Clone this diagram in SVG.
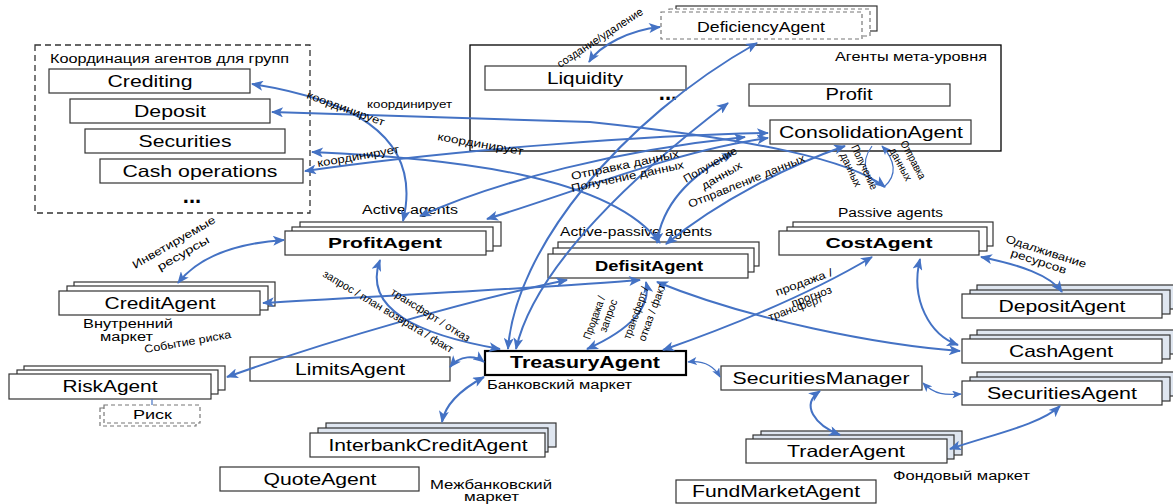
<svg xmlns="http://www.w3.org/2000/svg" width="1173" height="504" viewBox="0 0 1173 504">
<style>
text{font-family:"Liberation Sans",Arial,sans-serif;fill:#000}
.box{fill:#fff;stroke:#333;stroke-width:1.2}
.bk{fill:#fff;stroke:#333;stroke-width:1.2}
.bkb{fill:#dfe6f0;stroke:#333;stroke-width:1.2}
.dash{fill:#fff;stroke:#777;stroke-width:1.2;stroke-dasharray:4 3}
.n{font-size:16.5px;text-anchor:middle}
.b{font-size:15.5px;font-weight:bold;text-anchor:middle}
.s{font-size:12px}
.l{font-size:11px}
.c{fill:none;stroke:#4472C4;stroke-width:2}
.t{fill:none;stroke:#4472C4;stroke-width:1.2}
</style>
<defs>
<marker id="ah" viewBox="0 0 12 10" refX="11" refY="5" markerWidth="14" markerHeight="10" markerUnits="userSpaceOnUse" orient="auto-start-reverse"><path d="M0,0 L12,5 L0,10 L3,5 z" fill="#4472C4"/></marker>
<marker id="as" viewBox="0 0 12 10" refX="11" refY="5" markerWidth="10" markerHeight="8" markerUnits="userSpaceOnUse" orient="auto-start-reverse"><path d="M0,0 L12,5 L0,10 L3,5 z" fill="#4472C4"/></marker>
</defs>

<g id="group-coordination">
<rect x="35" y="45" width="275" height="168" fill="none" stroke="#333" stroke-width="1.3" stroke-dasharray="6 4"/>
<text class="s" x="50" y="63" textLength="239" lengthAdjust="spacingAndGlyphs">Координация агентов для групп</text>
<text x="192" y="203" style="font-size:22px;font-weight:bold;text-anchor:middle">...</text>
</g>
<g id="crediting"><rect class="box" x="49" y="69" width="201" height="24"/><text class="n" x="150" y="87" textLength="85" lengthAdjust="spacingAndGlyphs">Crediting</text></g>
<g id="deposit"><rect class="box" x="70" y="99" width="200" height="24"/><text class="n" x="170" y="117" textLength="72" lengthAdjust="spacingAndGlyphs">Deposit</text></g>
<g id="securities"><rect class="box" x="85" y="129" width="200" height="24"/><text class="n" x="185" y="147" textLength="93" lengthAdjust="spacingAndGlyphs">Securities</text></g>
<g id="cashops"><rect class="box" x="100" y="159" width="203" height="24"/><text class="n" x="200" y="177" textLength="155" lengthAdjust="spacingAndGlyphs">Cash operations</text></g>

<g id="meta-level">
<rect x="470" y="45" width="531" height="106" fill="none" stroke="#000" stroke-width="1.3"/>
<text class="s" x="835" y="61" textLength="152" lengthAdjust="spacingAndGlyphs">Агенты мета-уровня</text>
<text x="668" y="100" style="font-size:22px;font-weight:bold;text-anchor:middle">...</text>
</g>
<g id="liquidity"><rect class="box" x="485" y="66" width="201" height="24"/><text class="n" x="585" y="84" textLength="76" lengthAdjust="spacingAndGlyphs">Liquidity</text></g>
<g id="profit"><rect class="box" x="749" y="84" width="201" height="22"/><text class="n" x="849" y="100" textLength="47" lengthAdjust="spacingAndGlyphs">Profit</text></g>
<g id="consolidation"><rect class="box" x="770" y="120" width="201" height="24"/><text class="n" x="871" y="138" textLength="184" lengthAdjust="spacingAndGlyphs">ConsolidationAgent</text></g>
<g id="deficiency">
<rect class="box" x="676" y="6" width="201" height="25"/>
<rect class="dash" x="669" y="9" width="201" height="27"/>
<rect class="dash" x="661" y="12" width="201" height="27"/>
<text class="n" x="761" y="32" textLength="128" lengthAdjust="spacingAndGlyphs" style="font-size:15px">DeficiencyAgent</text>
</g>

<g id="profitagent">
<rect class="bk" x="300" y="222" width="201" height="24"/>
<rect class="bk" x="292" y="227" width="201" height="24"/>
<rect class="box" x="285" y="231" width="201" height="24"/>
<text class="b" x="385" y="248" textLength="114" lengthAdjust="spacingAndGlyphs">ProfitAgent</text>
<text class="s" x="362" y="214" textLength="96" lengthAdjust="spacingAndGlyphs">Active agents</text>
</g>
<g id="defisitagent">
<rect class="bk" x="558" y="242" width="201" height="24"/>
<rect class="bk" x="553" y="248" width="201" height="24"/>
<rect class="box" x="548" y="254" width="200" height="24"/>
<text class="b" x="649" y="271" textLength="108" lengthAdjust="spacingAndGlyphs">DefisitAgent</text>
<text class="s" x="560" y="236" textLength="152" lengthAdjust="spacingAndGlyphs">Active-passive agents</text>
</g>
<g id="costagent">
<rect class="bk" x="793" y="222" width="200" height="24"/>
<rect class="bk" x="787" y="227" width="200" height="24"/>
<rect class="box" x="779" y="231" width="200" height="24"/>
<text class="b" x="879" y="248" textLength="107" lengthAdjust="spacingAndGlyphs">CostAgent</text>
<text class="s" x="838" y="217" textLength="105" lengthAdjust="spacingAndGlyphs">Passive agents</text>
</g>
<g id="creditagent">
<rect class="bk" x="74" y="282" width="201" height="24"/>
<rect class="bk" x="67" y="286" width="201" height="24"/>
<rect class="box" x="59" y="291" width="201" height="24"/>
<text class="n" x="160" y="309" textLength="111" lengthAdjust="spacingAndGlyphs">CreditAgent</text>
<text class="s" x="83" y="328" textLength="90" lengthAdjust="spacingAndGlyphs">Внутренний</text>
<text class="s" x="100" y="341" textLength="53" lengthAdjust="spacingAndGlyphs">маркет</text>
</g>
<g id="riskagent">
<rect class="bk" x="24" y="366" width="201" height="24"/>
<rect class="bk" x="17" y="370" width="201" height="24"/>
<rect class="box" x="9" y="374" width="202" height="25"/>
<text class="n" x="110" y="392" textLength="95" lengthAdjust="spacingAndGlyphs">RiskAgent</text>
</g>
<g id="risk">
<rect class="dash" x="100" y="408" width="96" height="18"/>
<rect class="dash" x="104" y="405" width="96" height="18"/>
<text class="s" x="133" y="419" textLength="39" lengthAdjust="spacingAndGlyphs">Риск</text>
</g>
<g id="limitsagent"><rect class="box" x="250" y="357" width="200" height="24"/><text class="n" x="350" y="375" textLength="110" lengthAdjust="spacingAndGlyphs">LimitsAgent</text></g>
<g id="treasuryagent">
<rect x="485" y="351" width="201" height="24" fill="#fff" stroke="#000" stroke-width="2.2"/>
<text class="b" x="585" y="368" textLength="150" lengthAdjust="spacingAndGlyphs" style="font-size:16.5px">TreasuryAgent</text>
<text class="s" x="487" y="389" textLength="145" lengthAdjust="spacingAndGlyphs">Банковский маркет</text>
</g>
<g id="interbank">
<rect class="bkb" x="326" y="423" width="230" height="24"/>
<rect class="bkb" x="318" y="428" width="230" height="24"/>
<rect class="box" x="310" y="433" width="235" height="24"/>
<text class="n" x="428" y="451" textLength="199" lengthAdjust="spacingAndGlyphs">InterbankCreditAgent</text>
</g>
<g id="quoteagent">
<rect class="box" x="220" y="467" width="199" height="24"/><text class="n" x="320" y="485" textLength="113" lengthAdjust="spacingAndGlyphs">QuoteAgent</text>
</g>
<text class="s" x="430" y="489" textLength="122" lengthAdjust="spacingAndGlyphs">Межбанковский</text>
<text class="s" x="464" y="501" textLength="55" lengthAdjust="spacingAndGlyphs">маркет</text>
<g id="securitiesmanager"><rect class="box" x="721" y="366" width="201" height="24"/><text class="n" x="821" y="384" textLength="177" lengthAdjust="spacingAndGlyphs">SecuritiesManager</text></g>
<g id="traderagent">
<rect class="bkb" x="761" y="431" width="201" height="24"/>
<rect class="bkb" x="753" y="435" width="201" height="24"/>
<rect class="box" x="746" y="439" width="201" height="24"/>
<text class="n" x="846" y="457" textLength="118" lengthAdjust="spacingAndGlyphs">TraderAgent</text>
<text class="s" x="893" y="480" textLength="137" lengthAdjust="spacingAndGlyphs">Фондовый маркет</text>
</g>
<g id="fundmarketagent"><rect class="box" x="676" y="480" width="200" height="23"/><text class="n" x="776" y="497" textLength="168" lengthAdjust="spacingAndGlyphs">FundMarketAgent</text></g>
<g id="depositagent">
<rect class="bkb" x="977" y="285" width="200" height="24"/>
<rect class="bkb" x="970" y="290" width="200" height="24"/>
<rect class="box" x="962" y="294" width="200" height="24"/>
<text class="n" x="1062" y="312" textLength="127" lengthAdjust="spacingAndGlyphs">DepositAgent</text>
</g>
<g id="cashagent">
<rect class="bkb" x="977" y="330" width="200" height="24"/>
<rect class="bkb" x="970" y="335" width="200" height="24"/>
<rect class="box" x="962" y="339" width="200" height="24"/>
<text class="n" x="1061" y="357" textLength="104" lengthAdjust="spacingAndGlyphs">CashAgent</text>
</g>
<g id="securitiesagent">
<rect class="bkb" x="977" y="372" width="200" height="24"/>
<rect class="bkb" x="970" y="377" width="200" height="24"/>
<rect class="box" x="962" y="381" width="200" height="24"/>
<text class="n" x="1062" y="399" textLength="150" lengthAdjust="spacingAndGlyphs">SecuritiesAgent</text>
</g>

<g id="connectors">
<path class="c" d="M252,84 C340,98 425,130 403,221" marker-start="url(#ah)" marker-end="url(#ah)"/>
<path class="c" d="M272,112 L590,122 C760,140 850,160 885,187" marker-start="url(#ah)" marker-end="url(#ah)"/>
<path class="c" d="M312,152 C450,158 610,175 660,243" marker-start="url(#ah)" marker-end="url(#ah)"/>
<path class="c" d="M305,171 C450,150 650,135 768,133" marker-start="url(#ah)" marker-end="url(#ah)"/>
<path class="c" d="M178,283 C200,255 240,243 284,240" marker-start="url(#ah)" marker-end="url(#ah)"/>
<path class="c" d="M263,303 C400,295 560,287 640,280" marker-start="url(#ah)" marker-end="url(#ah)"/>
<path class="c" d="M227,377 C330,340 470,300 567,280" marker-start="url(#ah)" marker-end="url(#ah)"/>
<path class="c" d="M380,260 C362,310 420,335 500,349" marker-start="url(#ah)" marker-end="url(#ah)"/>
<path class="c" d="M646,282 C652,310 625,332 587,349" marker-start="url(#ah)" marker-end="url(#ah)"/>
<path class="c" d="M872,257 C800,300 720,330 663,350" marker-start="url(#ah)" marker-end="url(#ah)"/>
<path class="c" d="M657,282 C750,320 880,345 960,351" marker-start="url(#ah)" marker-end="url(#ah)"/>
<path class="c" d="M920,259 C910,300 930,335 958,345" marker-start="url(#ah)" marker-end="url(#ah)"/>
<path class="c" d="M981,257 C1020,265 1050,275 1062,292" marker-start="url(#ah)" marker-end="url(#ah)"/>
<path class="c" d="M450,367 C460,355 475,355 484,362" marker-start="url(#ah)" marker-end="url(#ah)"/>
<path class="c" d="M484,377 C460,390 445,405 442,422" marker-start="url(#ah)" marker-end="url(#ah)"/>
<path class="t" d="M688,362 C705,360 715,368 720,377" marker-start="url(#as)" marker-end="url(#as)"/>
<path class="t" d="M923,383 C935,395 945,395 961,394" marker-start="url(#as)" marker-end="url(#as)"/>
<path class="c" d="M820,391 C800,405 815,425 840,435" marker-start="url(#ah)" marker-end="url(#ah)"/>
<path class="c" d="M950,449 C990,435 1040,425 1060,406" marker-start="url(#ah)" marker-end="url(#ah)"/>
<path class="c" d="M589,62 C600,45 630,30 660,27" marker-start="url(#ah)" marker-end="url(#ah)"/>
<path class="c" d="M508,349 C515,250 620,120 757,43" marker-start="url(#ah)" marker-end="url(#ah)"/>
<path class="c" d="M516,349 C535,265 640,170 728,103" marker-start="url(#ah)" marker-end="url(#ah)"/>
<path class="c" d="M487,219 C580,190 680,150 768,138" marker-start="url(#ah)" marker-end="url(#ah)"/>
<path class="c" d="M420,216 C500,180 620,150 745,137" marker-start="url(#ah)" marker-end="url(#ah)"/>
<path class="c" d="M657,243 C662,205 690,175 733,153" marker-start="url(#ah)" marker-end="url(#ah)"/>
<path class="c" d="M666,244 C720,200 790,165 845,146" marker-start="url(#ah)" marker-end="url(#ah)"/>
<path class="t" d="M872,146 C858,165 868,180 884,187 C898,175 895,160 882,146" marker-end="url(#as)"/>
<path class="t" d="M152,399 L152,405"/>
</g>

<g id="connector-labels">
<text class="l" transform="translate(560,68) rotate(-33)" textLength="100" lengthAdjust="spacingAndGlyphs">создание/удаление</text>
<text class="l" transform="translate(306,98) rotate(20)" textLength="82" lengthAdjust="spacingAndGlyphs">координирует</text>
<text class="l" x="367" y="108" textLength="85" lengthAdjust="spacingAndGlyphs">координирует</text>
<text class="l" transform="translate(437,140) rotate(10)" textLength="87" lengthAdjust="spacingAndGlyphs">координирует</text>
<text class="l" transform="translate(318,167) rotate(-10)" textLength="83" lengthAdjust="spacingAndGlyphs">координирует</text>
<text class="l" transform="translate(135,269) rotate(-30)" textLength="94" lengthAdjust="spacingAndGlyphs">Инветируемые</text>
<text class="l" transform="translate(160,271) rotate(-30)" textLength="58" lengthAdjust="spacingAndGlyphs">ресурсы</text>
<text class="l" transform="translate(145,353) rotate(-10)" textLength="88" lengthAdjust="spacingAndGlyphs">Событие риска</text>
<text class="l" transform="translate(322,276) rotate(31)" textLength="150" lengthAdjust="spacingAndGlyphs">запрос / план возврата / факт</text>
<text class="l" transform="translate(390,294) rotate(32)" textLength="91" lengthAdjust="spacingAndGlyphs">трансферт / отказ</text>
<text class="l" transform="translate(590,340) rotate(-70)" textLength="45" lengthAdjust="spacingAndGlyphs">Продажа /</text>
<text class="l" transform="translate(606,333) rotate(-70)" textLength="34" lengthAdjust="spacingAndGlyphs">запрос</text>
<text class="l" transform="translate(630,340) rotate(-70)" textLength="55" lengthAdjust="spacingAndGlyphs">трансферт /</text>
<text class="l" transform="translate(645,342) rotate(-70)" textLength="60" lengthAdjust="spacingAndGlyphs">отказ / факт</text>
<text class="l" transform="translate(777,296) rotate(-20)" textLength="60" lengthAdjust="spacingAndGlyphs">продажа /</text>
<text class="l" transform="translate(793,307) rotate(-20)" textLength="42" lengthAdjust="spacingAndGlyphs">прогноз</text>
<text class="l" transform="translate(770,321) rotate(-20)" textLength="57" lengthAdjust="spacingAndGlyphs">трансферт</text>
<text class="l" transform="translate(572,180) rotate(-12)" textLength="110" lengthAdjust="spacingAndGlyphs">Отправка данных</text>
<text class="l" transform="translate(572,192) rotate(-12)" textLength="115" lengthAdjust="spacingAndGlyphs">Получение данных</text>
<text class="l" transform="translate(686,183) rotate(-30)" textLength="60" lengthAdjust="spacingAndGlyphs">Получение</text>
<text class="l" transform="translate(704,190) rotate(-30)" textLength="45" lengthAdjust="spacingAndGlyphs">данных</text>
<text class="l" transform="translate(690,208) rotate(-22)" textLength="125" lengthAdjust="spacingAndGlyphs">Отправление данных</text>
<text class="l" transform="translate(851,147) rotate(65)" textLength="48" lengthAdjust="spacingAndGlyphs">Получение</text>
<text class="l" transform="translate(840,155) rotate(65)" textLength="36" lengthAdjust="spacingAndGlyphs">данных</text>
<text class="l" transform="translate(900,143) rotate(62)" textLength="42" lengthAdjust="spacingAndGlyphs">Отправка</text>
<text class="l" transform="translate(889,150) rotate(62)" textLength="36" lengthAdjust="spacingAndGlyphs">данных</text>
<text class="l" transform="translate(1005,242) rotate(18)" textLength="84" lengthAdjust="spacingAndGlyphs">Одалживание</text>
<text class="l" transform="translate(1010,256) rotate(18)" textLength="58" lengthAdjust="spacingAndGlyphs">ресурсов</text>
</g>
</svg>
